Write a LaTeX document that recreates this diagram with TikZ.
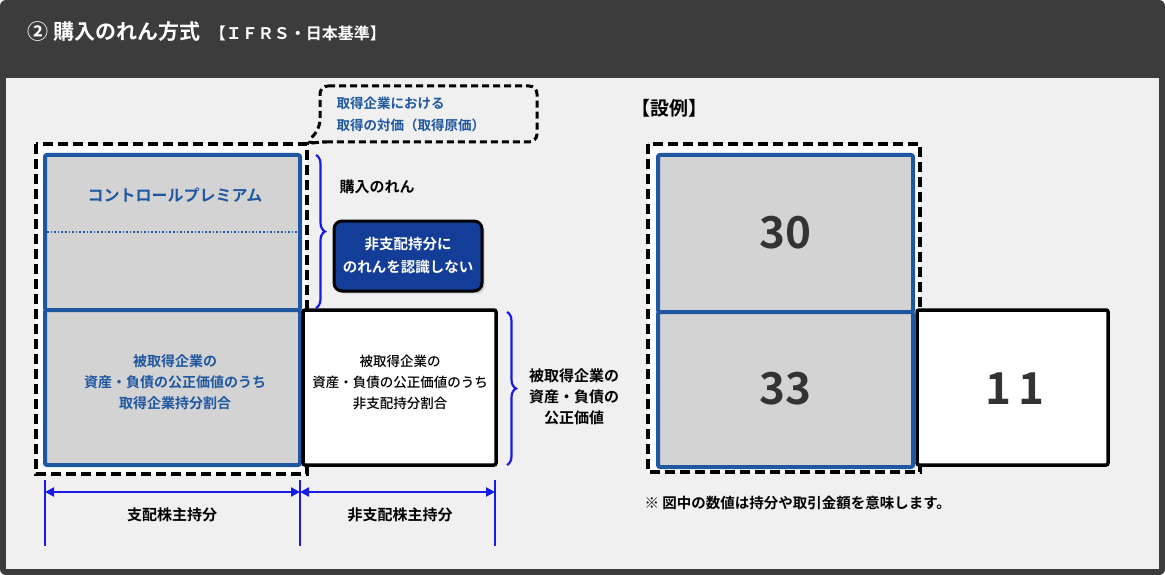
\documentclass[tikz,border=0pt]{standalone}
\usepackage{fontspec}
\setmainfont{Noto Sans CJK JP}[BoldFont={* Bold}]
\newfontfamily\jpb{Noto Sans CJK JP Bold}
\newfontfamily\jpm{Noto Sans CJK JP Medium}
\usetikzlibrary{decorations.pathreplacing,arrows.meta,shadows}
\definecolor{hdr}{HTML}{3C3C3C}
\definecolor{bg}{HTML}{F0F0F0}
\definecolor{bl}{HTML}{1F57A0}
\definecolor{gy}{HTML}{D3D3D3}
\definecolor{nb}{HTML}{133D96}
\definecolor{br}{HTML}{1A1AE6}
\begin{document}
\begin{tikzpicture}[x=1pt,y=-1pt,
  bluebox/.style={draw=bl,line width=4pt,fill=gy,rounded corners=2pt},
  whitebox/.style={draw=black,line width=3.5pt,fill=white,rounded corners=2pt},
  dashbox/.style={draw=black,line width=4pt,dash pattern=on 10pt off 5pt},
  lbl/.style={font=\jpb\fontsize{13}{17}\selectfont,align=center},
  num/.style={font=\jpb\fontsize{44}{44}\selectfont,text=black!80},
  brc/.style={draw=br,line width=2.2pt,decorate,decoration={brace,amplitude=9pt}},
  dim/.style={draw=br,line width=2.6pt}]
\useasboundingbox (0,0) rectangle (1165,575);
\fill[hdr,rounded corners=6pt] (0,0) rectangle (1165,575);
\fill[bg] (6,78) rectangle (1159,569);
\node[anchor=west,text=white,font=\jpb\fontsize{21}{24}\selectfont] (title) at (24,32) {② 購入のれん方式\ \ {\fontsize{16}{18}\selectfont【ＩＦＲＳ・日本基準】}};
% callout
\draw[dashbox,line width=3pt,rounded corners=8pt,dash pattern=on 7pt off 4pt] (320,86) -- (537,86) -- (537,142) -- (330,142) -- (318,142) -- (306,144) -- (320,128) -- cycle;
\node[lbl,text=bl,align=left,anchor=west,font=\jpb\fontsize{13.5}{22}\selectfont] (cost) at (333,114) {取得企業における\\取得の対価（取得原価）};
% left
\draw[dashbox,fill=white] (36,144) rectangle (307,474);
\draw[bluebox] (45,155) rectangle (300,310);
\draw[bluebox] (45,310) rectangle (300,465);
\draw[bl,line width=1.6pt,dotted] (47,232) -- (298,232);
\node[lbl,text=bl,font=\jpb\fontsize{16}{18}\selectfont] (cp) at (175,195) {コントロールプレミアム};
\node[lbl,text=bl,font=\jpb\fontsize{14}{21}\selectfont] (acq) at (175,382) {被取得企業の\\資産・負債の公正価値のうち\\取得企業持分割合};
\draw[whitebox] (303,310) rectangle (496,465);
\node[lbl,font=\jpm\fontsize{13.5}{21}\selectfont] (nci) at (400,382) {被取得企業の\\資産・負債の公正価値のうち\\非支配持分割合};
\draw[brc] (316,155) -- (316,308);
\node[lbl,anchor=west,font=\jpb\fontsize{15}{18}\selectfont] (gw) at (336,187) {購入のれん};
\node[draw=black,line width=3pt,fill=nb,rounded corners=8pt,minimum width=148pt,minimum height=70pt,text=white,lbl,font=\jpb\fontsize{14.5}{23}\selectfont,drop shadow={opacity=0.3}] (nog) at (408,256) {非支配持分に\\のれんを認識しない};
\draw[brc] (507,312) -- (507,465);
\node[lbl,font=\jpb\fontsize{15}{21}\selectfont] (fv) at (574,397) {被取得企業の\\資産・負債の\\公正価値};
% dimension
\coordinate (d1t) at (45,480); \coordinate (d1b) at (45,546);
\coordinate (d2t) at (300,480); \coordinate (d2b) at (300,546);
\coordinate (d3t) at (495,480); \coordinate (d3b) at (495,546);
\draw[dim] (d1t) -- (d1b); \draw[dim] (d2t) -- (d2b); \draw[dim] (d3t) -- (d3b);
\coordinate (a1) at (45,492); \coordinate (a2) at (300,492); \coordinate (a3) at (495,492);
\draw[dim,{Triangle[length=9pt,width=9pt]}-{Triangle[length=9pt,width=9pt]}] (a1) -- (a2);
\draw[dim,{Triangle[length=9pt,width=9pt]}-{Triangle[length=9pt,width=9pt]}] (a2) -- (a3);
\node[lbl,font=\jpb\fontsize{15}{18}\selectfont] (ctl) at (172,515) {支配株主持分};
\node[lbl,font=\jpb\fontsize{15}{18}\selectfont] (nctl) at (400,515) {非支配株主持分};
% right
\node[anchor=west,font=\jpb\fontsize{19}{22}\selectfont] (ex) at (628,108) {【設例】};
\draw[dashbox,fill=white] (648,144) rectangle (920,472);
\draw[bluebox] (658,155) rectangle (913,312);
\draw[bluebox] (658,312) rectangle (913,467);
\draw[whitebox] (917,310) rectangle (1108,465);
\node[num] (n30) at (785,233) {30};
\node[num] (n33) at (785,389) {33};
\node[num] (n11) at (1015,389) {1\,1};
\node[anchor=west,lbl,font=\jpb\fontsize{14.5}{18}\selectfont] (note) at (641,503) {※ 図中の数値は持分や取引金額を意味します。};
\end{tikzpicture}
\end{document}
